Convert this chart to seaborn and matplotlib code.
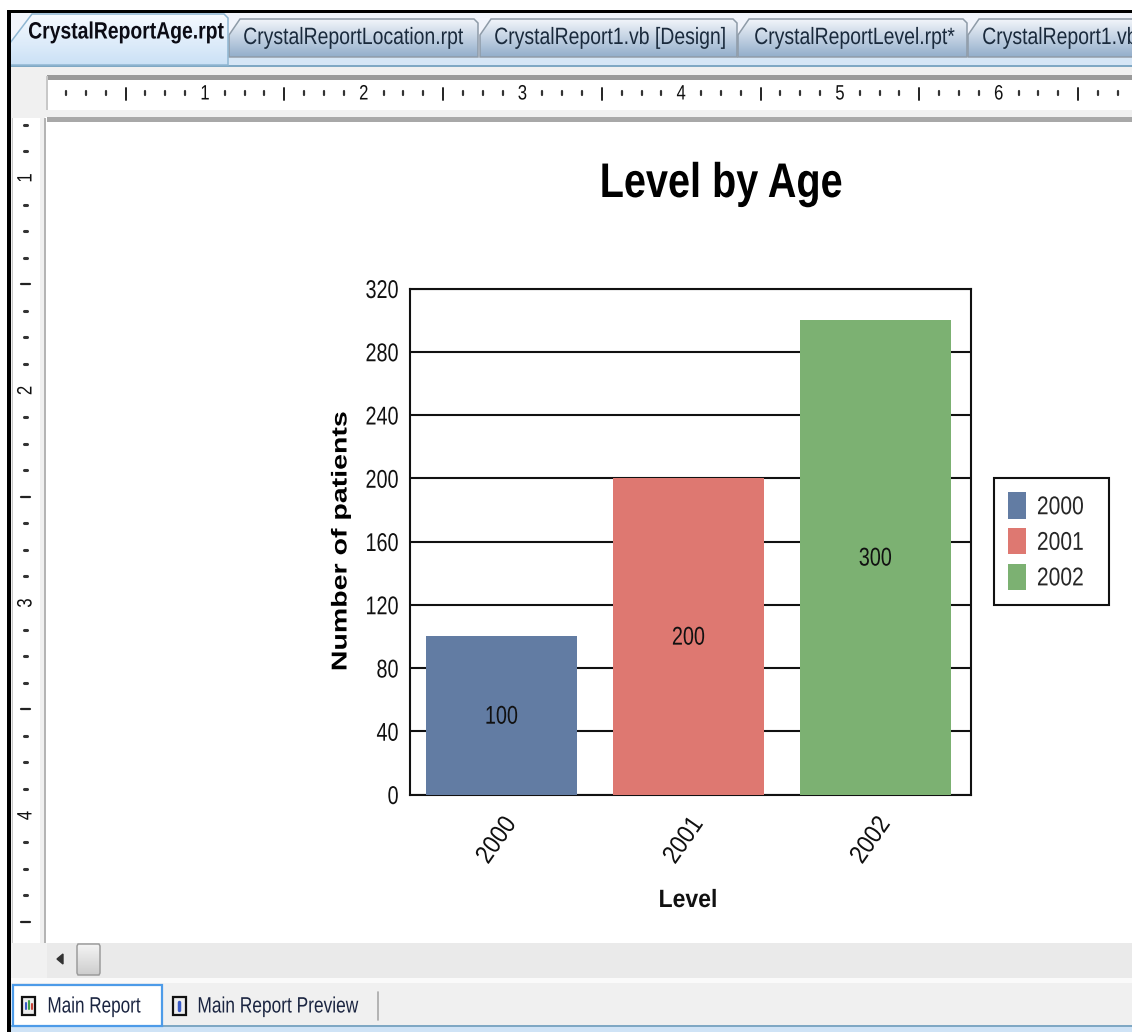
import numpy as np
import pandas as pd
import matplotlib
matplotlib.use("Agg")
import matplotlib.pyplot as plt
from matplotlib.patches import Rectangle, Polygon, Patch
from matplotlib.patheffects import AbstractPathEffect
from matplotlib.colors import LinearSegmentedColormap
from matplotlib.transforms import Affine2D
import seaborn as sns

# Chart values
years = ["2000", "2001", "2002"]
patients = [100, 200, 300]
bar_colors = ["#627CA3", "#DE7871", "#7CB172"]
y_ticks = [0, 40, 80, 120, 160, 200, 240, 280, 320]

# Report designer labels
active_tab = "CrystalReportAge.rpt"
other_tabs = ["CrystalReportLocation.rpt", "CrystalReport1.vb [Design]",
              "CrystalReportLevel.rpt*", "CrystalReport1.vb"]
bottom_tabs = ["Main Report", "Main Report Preview"]
ruler_numbers = [1, 2, 3, 4, 5, 6]

W, H = 1132, 1032

sns.set_theme(style="white")
plt.rcParams["font.family"] = ["Liberation Sans", "DejaVu Sans"]


class Condense(AbstractPathEffect):
    """Scales text along its baseline so a regular face reads as a condensed one."""

    def __init__(self, factor, anchor="center"):
        super().__init__()
        self.factor = factor
        self.anchor = anchor

    def draw_path(self, renderer, gc, tpath, affine, rgbFace=None):
        ext = tpath.get_extents()
        pivot = {"left": ext.x0, "center": (ext.x0 + ext.x1) / 2, "right": ext.x1}[self.anchor]
        squeeze = Affine2D().translate(-pivot, 0).scale(self.factor, 1).translate(pivot, 0)
        renderer.draw_path(gc, tpath, squeeze + affine, rgbFace)


fig = plt.figure(figsize=(W / 100, H / 100), dpi=100, facecolor="white")

# Window chrome, laid out in pixel coordinates
ui = fig.add_axes([0, 0, 1, 1], zorder=0)
ui.set_xlim(0, W)
ui.set_ylim(H, 0)
ui.axis("off")


def rect(x0, y0, x1, y1, color, z=1):
    ui.add_patch(Rectangle((x0, y0), x1 - x0, y1 - y0, facecolor=color, edgecolor="none", zorder=z))


def gradient_tab(points, top, bottom, edge, z=3):
    cmap = LinearSegmentedColormap.from_list("tab", [top, bottom])
    xs = [p[0] for p in points]
    ys = [p[1] for p in points]
    im = ui.imshow(np.linspace(0, 1, 64).reshape(-1, 1), cmap=cmap, aspect="auto",
                   extent=(min(xs), max(xs), max(ys), min(ys)), zorder=z)
    poly = Polygon(points, closed=True, facecolor="none", edgecolor=edge, lw=1.1, zorder=z + 0.1)
    ui.add_patch(poly)
    im.set_clip_path(poly)


rect(10, 12, W, H, "#F0F0F0")
rect(10, 12, W, 58, "#F1F4FB", z=1.1)
rect(10, 58, W, 65, "#D6E6F6", z=1.2)
rect(10, 65, W, 67, "#7FA8C4", z=1.3)

# Tab strip
tab_spans = [(229, 478), (480, 737), (738, 967), (968, W + 30)]
tab_text_x = [243, 494, 754, 982]
for (x0, x1), label, tx in zip(tab_spans, other_tabs, tab_text_x):
    pts = [(x0, 57), (x0, 35), (x0 + 11, 19), (x1 - 4, 19), (x1, 23), (x1, 57)]
    gradient_tab(pts, "#F2F5FA", "#93AECB", "#8E9BA8")
    ui.text(tx, 38, label, fontsize=17, color="#1A2A3C", va="center", ha="left", zorder=5,
            path_effects=[Condense(0.822, "left")])
gradient_tab([(10, 65), (10, 43), (32, 14), (224, 14), (228, 18), (228, 65)],
             "#F6FAFF", "#CBE1F6", "#8FB6D2", z=3.5)
ui.text(28, 32, active_tab, fontsize=17, fontweight="bold", color="#0B0B14",
        va="center", ha="left", zorder=5, path_effects=[Condense(0.82, "left")])

# Horizontal ruler
rect(47, 76, W, 110, "white", z=2)
rect(47, 75, W, 80, "#9A9A9A", z=2.1)
rect(46, 76, 48, 110, "#C8C8C8", z=2.1)
hx0, hstep = 46.2, 158.75
for i in range(8 * 7 + 1):
    x = hx0 + i * hstep / 8
    if x > W or i == 0:
        continue
    if i % 8 == 0:
        ui.text(x, 94, str(ruler_numbers[i // 8 - 1]), fontsize=15, ha="center",
                va="center", color="#111111", zorder=3, path_effects=[Condense(0.8)])
    elif i % 4 == 0:
        ui.plot([x, x], [88, 100], color="#222222", lw=1.4, zorder=3)
    else:
        ui.plot([x, x], [91, 95], color="#333333", lw=1.6, zorder=3)

# Vertical ruler
rect(13, 118, 40, 943, "white", z=2)
rect(12, 118, 13, 943, "#C8C8C8", z=2.1)
vy0, vstep = -34.5, 212.5
for i in range(8 * 6):
    y = vy0 + i * vstep / 8
    if y < 122 or y > 940:
        continue
    if i % 8 == 0:
        ui.text(26, y, str(i // 8), fontsize=15, rotation=90, ha="center",
                va="center", color="#111111", zorder=3, path_effects=[Condense(0.8)])
    elif i % 4 == 0:
        ui.plot([21, 30], [y, y], color="#222222", lw=1.6, zorder=3)
    else:
        ui.plot([24, 27], [y, y], color="#333333", lw=2.2, zorder=3)

# Report page
rect(45, 117, W, 943, "white", z=2)
rect(47, 117, W, 122, "#A8A8A8", z=2.1)
rect(44, 118, 46, 943, "#B4B4B4", z=2.1)

# Scroll bar and bottom tabs
rect(10, 943, W, 978, "#F1F1F1", z=2)
rect(47, 943, W, 978, "#EAEAEA", z=2.1)
rect(10, 978, W, 983, "#FAFAFA", z=2.1)
ui.add_patch(Polygon([(57, 959), (63, 954), (63, 964)], closed=True, color="#333333", zorder=3))
gradient_tab([(78, 944), (99, 944), (100, 946), (100, 973), (99, 975), (78, 975), (77, 973), (77, 946)],
             "#F4F4F4", "#CDCDCD", "#9C9C9C")
rect(10, 1027, W, H, "#CFE3F6", z=2)
rect(10, 1025, W, 1027, "#7FA8C4", z=2.1)
ui.add_patch(Rectangle((13, 985), 149, 41, facecolor="white", edgecolor="#4D9BE8", lw=1.6, zorder=3))
for x in (22, 173):
    ui.add_patch(Rectangle((x, 997), 13, 18, facecolor="#EDEDED", edgecolor="#111111", lw=1.6, zorder=4))
ui.plot([26, 26], [1003, 1009], color="#3A5BC8", lw=1.5, zorder=5)
ui.plot([29, 29], [1001, 1009], color="#3CA04A", lw=1.5, zorder=5)
ui.plot([32, 32], [1004, 1009], color="#C8443A", lw=1.5, zorder=5)
ui.plot([179, 179], [1002, 1010], color="#3A5BC8", lw=2.5, zorder=5)
ui.text(47, 1007, bottom_tabs[0], fontsize=16, color="#1A2440", va="center", zorder=5,
        path_effects=[Condense(0.77, "left")])
ui.text(197, 1007, bottom_tabs[1], fontsize=16, color="#1A2440", va="center", zorder=5,
        path_effects=[Condense(0.78, "left")])
ui.plot([378, 378], [992, 1020], color="#A8A8A8", lw=1.2, zorder=3)

# Black window frame
rect(7, 10, W, 12.5, "black", z=6)
rect(7, 10, 10.5, H, "black", z=6)

# Chart
left, right, top, bottom = 410, 971, 288.5, 794.5
ax = fig.add_axes([left / W, 1 - bottom / H, (right - left) / W, (bottom - top) / H],
                  zorder=5, facecolor="white")
df = pd.DataFrame({"year": years, "patients": patients})
sns.barplot(data=df, x="year", y="patients", hue="year", order=years, hue_order=years,
            palette=bar_colors, dodge=False, width=0.81, saturation=1, legend=False,
            linewidth=0, zorder=3, ax=ax)
ax.set_xlim(-0.489, 2.511)
ax.set_ylim(0, 320)
ax.set_yticks(y_ticks)
ax.yaxis.grid(True, color="#111111", lw=1.5, zorder=1)
ax.set_axisbelow(True)
for spine in ax.spines.values():
    spine.set_visible(True)
    spine.set_color("#111111")
    spine.set_linewidth(1.5)
ax.tick_params(axis="y", length=0, pad=8, labelsize=18.5, labelcolor="#111111")
ax.tick_params(axis="x", length=0, pad=13, labelsize=18.5, labelcolor="#111111")
for label in ax.get_yticklabels():
    label.set_path_effects([Condense(0.77, "right")])
for label in ax.get_xticklabels():
    label.set(rotation=55, ha="right", rotation_mode="anchor")
    label.set_path_effects([Condense(0.88, "right")])

for container in ax.containers:
    for bar, value in zip(container, container.datavalues):
        if np.isnan(value):
            continue
        ax.text(bar.get_x() + bar.get_width() / 2, value / 2 - 0.8, f"{value:.0f}",
                ha="center", va="center", fontsize=18.5, color="#111111", zorder=4,
                path_effects=[Condense(0.77)])

ax.set_xlabel("")
ax.set_ylabel("")
fig.text(721 / W, 1 - 197 / H, "Level by Age", fontsize=35, fontweight="bold",
         ha="center", va="baseline", color="black", path_effects=[Condense(0.815)])
fig.text(688 / W, 1 - 900 / H, "Level", fontsize=18, fontweight="bold",
         ha="center", va="center", color="#111111", path_effects=[Condense(0.92)])
fig.text(341 / W, 1 - 541 / H, "Number of patients", fontsize=15.5, fontweight="bold",
         rotation=90, ha="center", va="center", color="black", path_effects=[Condense(1.325)])

handles = [Patch(facecolor=c, edgecolor="none", label=y) for c, y in zip(bar_colors, years)]
legend = fig.legend(handles=handles, loc="upper left",
                    bbox_to_anchor=(993.5 / W, 1 - 477.5 / H), frameon=True, fancybox=False,
                    framealpha=1, edgecolor="#111111", facecolor="white", fontsize=18.5,
                    handlelength=0.7, handleheight=1.2, handletextpad=0.4,
                    labelspacing=0.34, borderpad=0.58, borderaxespad=0)
legend.get_frame().set_linewidth(1.5)
legend.set_zorder(10)
for text in legend.get_texts():
    text.set_path_effects([Condense(0.82, "left")])

fig.savefig("out.png", dpi=100)
